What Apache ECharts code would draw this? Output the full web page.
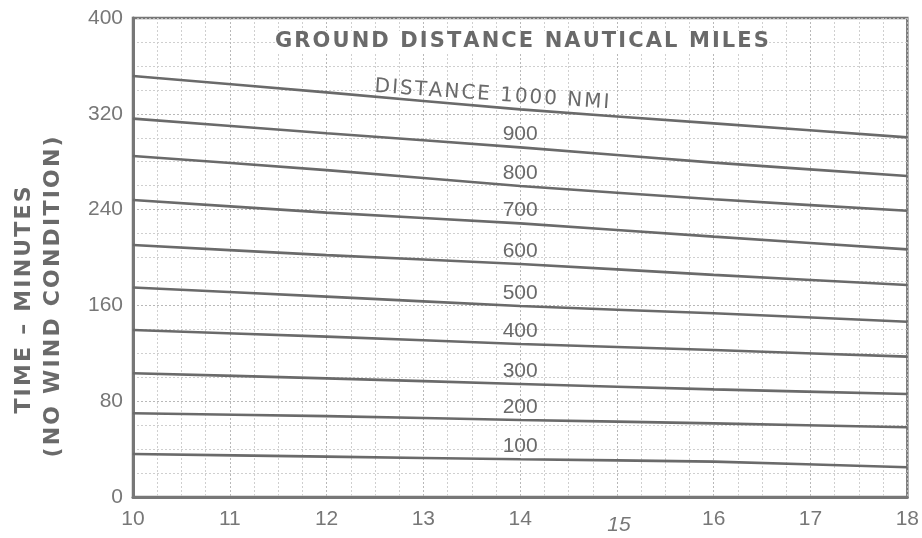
<!DOCTYPE html>
<html>
<head>
<meta charset="utf-8">
<script src="https://cdn.jsdelivr.net/npm/echarts@6/dist/echarts.min.js"></script>
<style>html,body{margin:0;padding:0;background:#fff}#c{width:922px;height:538px}</style>
</head>
<body>
<div id="c"></div>
<script>
var speeds = [10, 12, 14, 16, 18];
var xTicks = ['10','11','12','13','14','15','16','17','18'];
var yTicks = [0, 80, 160, 240, 320, 400];
var distances = [100, 200, 300, 400, 500, 600, 700, 800, 900, 1000];
var d100  = [35.9, 33.7, 31.5, 29.5, 24.8];
var d200  = [69.9, 67.5, 64.3, 61.5, 58.2];
var d300  = [103.3, 99.1, 94.4, 89.9, 86.0];
var d400  = [139.4, 133.9, 127.8, 122.7, 117.2];
var d500  = [175.0, 167.3, 159.5, 153.4, 146.4];
var d600  = [210.4, 202.0, 194.6, 185.5, 177.0];
var d700  = [248.0, 237.5, 228.5, 217.4, 206.8];
var d800  = [284.7, 273.0, 259.7, 248.6, 239.0];
var d900  = [316.0, 303.7, 292.0, 279.2, 268.0];
var d1000 = [351.5, 337.9, 323.7, 312.0, 300.3];
var seriesValues = [d100, d200, d300, d400, d500, d600, d700, d800, d900, d1000];
var titleText = 'GROUND DISTANCE NAUTICAL MILES';
var label1000 = 'DISTANCE 1000 NMI';
var yName1 = 'TIME \u2013 MINUTES';
var yName2 = '(NO WIND CONDITION)';

function spaced(s) { return s.split('').join('\u200A'); }

var gray = '#6a6a6a';
var labelFont = 'Liberation Sans';

var series = distances.map(function (d, i) {
  var vals = seriesValues[i];
  return {
    type: 'line',
    name: String(d),
    symbol: 'circle',
    symbolSize: 1,
    showSymbol: true,
    itemStyle: { color: gray },
    smooth: 0.2,
    lineStyle: { color: gray, width: 2.6 },
    labelLayout: { hideOverlap: false },
    data: speeds.map(function (s, j) {
      var item = { value: [s, vals[j]] };
      if (s === 14) {
        if (d === 1000) {
          item.label = {
            show: true, position: 'top', distance: 2,
            offset: [0, -15], rotate: -4,
            padding: [0, 58, 0, 0],
            formatter: spaced(label1000),
            fontSize: 20, color: gray, fontFamily: 'DejaVu Sans'
          };
        } else {
          item.label = {
            show: true, position: 'top', distance: 2,
            formatter: String(d),
            fontSize: 21, color: gray, fontFamily: labelFont
          };
        }
      }
      return item;
    })
  };
});

var chart = echarts.init(document.getElementById('c'));
chart.setOption({
  animation: false,
  backgroundColor: '#fff',
  grid: { left: 133, right: 12, top: 18, bottom: 41, show: true, borderColor: '#777', borderWidth: 2.5, backgroundColor: 'transparent' },
  xAxis: {
    type: 'value', min: 10, max: 18, interval: 1,
    axisLine: { show: true, lineStyle: { color: '#777', width: 3 } },
    axisTick: { show: false },
    axisLabel: {
      margin: 12, fontSize: 21, color: '#777', fontFamily: labelFont,
      formatter: function (v) { var t = xTicks[Math.round(v) - 10]; return t === '15' ? '{it|' + t + '}' : t; },
      rich: { it: { fontStyle: 'italic', fontSize: 21, color: '#777', fontFamily: labelFont, padding: [6, 0, 0, 4] } }
    },
    splitLine: { show: true, lineStyle: { color: '#b8b8b8', width: 1, type: [2, 2] } },
    minorTick: { show: false, splitNumber: 4 },
    minorSplitLine: { show: true, lineStyle: { color: '#cfcfcf', width: 1, type: [2, 2] } }
  },
  yAxis: {
    type: 'value', min: 0, max: 400, interval: 80,
    axisLine: { show: true, lineStyle: { color: '#777', width: 3 } },
    axisTick: { show: false },
    axisLabel: {
      margin: 10, fontSize: 21, color: '#777', fontFamily: labelFont,
      formatter: function (v) { return yTicks.indexOf(v) >= 0 ? String(v) : ''; }
    },
    splitLine: { show: true, lineStyle: { color: '#b8b8b8', width: 1, type: [2, 2] } },
    minorTick: { show: false, splitNumber: 4 },
    minorSplitLine: { show: true, lineStyle: { color: '#cfcfcf', width: 1, type: [2, 2] } }
  },
  graphic: [
    {
      type: 'text', left: 275, top: 31, z: 10,
      style: { text: spaced(titleText), fontSize: 21, fontWeight: 'bold', fill: gray, fontFamily: 'DejaVu Sans', backgroundColor: '#fff' }
    },
    {
      type: 'text', x: 24, y: 300, rotation: Math.PI / 2, z: 10,
      style: { text: spaced(yName1), fontSize: 22, fontWeight: 'bold', fill: gray, fontFamily: 'DejaVu Sans', align: 'center', verticalAlign: 'middle' }
    },
    {
      type: 'text', x: 53, y: 297, rotation: Math.PI / 2, z: 10,
      style: { text: spaced(yName2), fontSize: 22, fontWeight: 'bold', fill: gray, fontFamily: 'DejaVu Sans', align: 'center', verticalAlign: 'middle' }
    }
  ],
  series: series
});
</script>
</body>
</html>
